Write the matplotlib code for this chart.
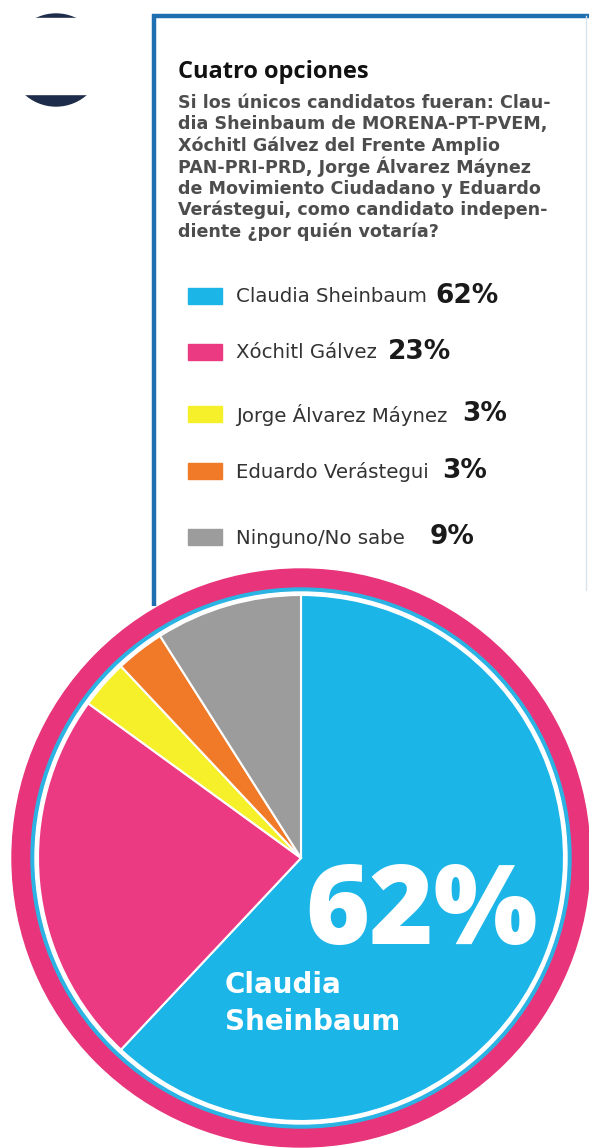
import matplotlib
matplotlib.use("Agg")
from matplotlib import pyplot as plt
from matplotlib.patches import Circle, Rectangle

W, H = 589, 1148

names = ["Claudia Sheinbaum", "Xóchitl Gálvez", "Jorge Álvarez Máynez",
         "Eduardo Verástegui", "Ninguno/No sabe"]
values = [62, 23, 3, 3, 9]
colors = ["#1cb5e8", "#ec3a82", "#f6f02a", "#f07a28", "#9c9c9c"]

title = "Cuatro opciones"
question = ["Si los únicos candidatos fueran: Clau-",
            "dia Sheinbaum de MORENA-PT-PVEM,",
            "Xóchitl Gálvez del Frente Amplio",
            "PAN-PRI-PRD, Jorge Álvarez Máynez",
            "de Movimiento Ciudadano y Eduardo",
            "Verástegui, como candidato indepen-",
            "diente ¿por quién votaría?"]

fig = plt.figure(figsize=(W / 100, H / 100), dpi=100)
ax = fig.add_axes([0, 0, 1, 1])

# pie, drawn in pixel coords (y axis inverted later)
cx, cy, r = 301, 858, 263
ax.add_patch(Circle((cx, cy), 289, color="#e8347a", zorder=2))
ax.add_patch(Circle((cx, cy), 270, color="#2ab3e3", zorder=3))
ax.add_patch(Circle((cx, cy), 266, color="white", zorder=4))
wedges, _ = ax.pie(values, colors=colors, startangle=270, counterclock=True,
                   center=(cx, cy), radius=r,
                   wedgeprops=dict(edgecolor="white", linewidth=1.5))
for w in wedges:
    w.set_zorder(5)

ax.set_xlim(0, W)
ax.set_ylim(H, 0)
ax.axis("off")

# box border
ax.plot([154, 154], [14, 606], color="#1f6fb0", lw=3.2, zorder=1, solid_capstyle="butt")
ax.plot([152, W], [16, 16], color="#1f6fb0", lw=3.2, zorder=1, solid_capstyle="butt")
ax.plot([586, 586], [16, 590], color="#d8e2ea", lw=1, zorder=1)

# cropped logo at top left
ax.add_patch(Circle((56, 60), 46, color="#1c2c4a", zorder=1))
ax.add_patch(Rectangle((0, 18), 140, 76, color="white", zorder=1.5))

ax.text(178, 72, title, fontsize=17, fontweight="bold", family="Open Sans",
        color="#111111", va="center")
for i, line in enumerate(question):
    ax.text(178, 103 + i * 21.4, line, fontsize=12.6, fontweight="bold",
            family="DejaVu Sans", color="#4d4d4d", va="center")

# legend
rows = [297, 353, 415, 472, 538]
pct_x = [435, 388, 462, 442, 430]
for name, v, c, y, px in zip(names, values, colors, rows, pct_x):
    ax.add_patch(Rectangle((188, y - 9), 34, 16, color=c, zorder=2))
    ax.text(236, y, name, fontsize=14.2, family="DejaVu Sans", color="#333333",
            va="center")
    ax.text(px, y - 1, f"{v}%", fontsize=19, fontweight="bold",
            family="DejaVu Sans", color="#1a1a1a", va="center")

# big label in the pie
ax.text(305, 915, f"{values[0]}%", fontsize=79, fontweight="heavy",
        family="Open Sans", color="white", va="center", zorder=6)
ax.text(225, 985, "Claudia", fontsize=20, fontweight="bold",
        family="DejaVu Sans", color="white", va="center", zorder=6)
ax.text(225, 1022, "Sheinbaum", fontsize=20, fontweight="bold",
        family="DejaVu Sans", color="white", va="center", zorder=6)

fig.savefig("out.png", dpi=100)
